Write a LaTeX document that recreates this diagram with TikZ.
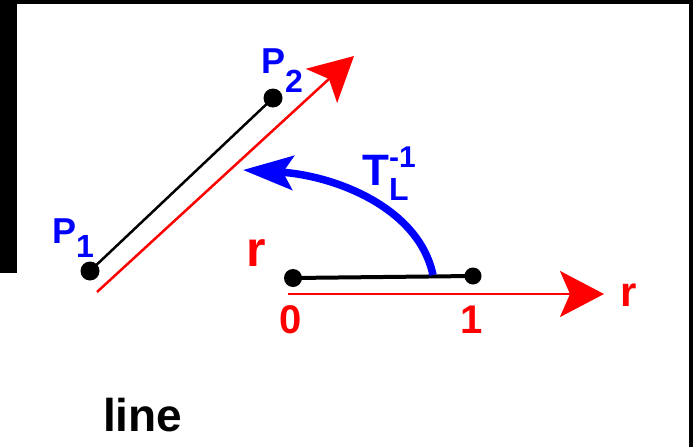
\documentclass[tikz,border=0pt]{standalone}
\usepackage{fontspec}
\setmainfont{Liberation Sans}
\usetikzlibrary{arrows.meta}
\begin{document}
\begin{tikzpicture}[x=1pt,y=-1pt,
  dot/.style={circle,fill=black,minimum size=19pt,inner sep=0pt},
  lbl/.style={inner sep=0pt,anchor=base west,font=\bfseries\fontsize{36}{40}\selectfont},
  clbl/.style={inner sep=0pt,anchor=base,font=\bfseries\fontsize{40}{44}\selectfont},
  frame/.style={fill=black},
  redarrow/.style={draw=red,line width=2.5pt,-{Stealth[length=44pt,width=46pt,inset=10pt]}},
  bluearrow/.style={draw=blue,line width=7.5pt,-{Stealth[length=50pt,width=34pt,inset=10pt]}},
]
\useasboundingbox (0,0) rectangle (693,447);
% frame pieces
\fill[frame] (0,0) rectangle (693,3.5);
\fill[frame] (0,0) rectangle (17,273);
\fill[frame] (689,0) rectangle (693,447);

% points of the line
\node[dot] (p1) at (90,271) {};
\node[dot] (p2) at (273,98) {};
\draw[line width=2.5pt] (p1.center) -- (p2.center);

% red direction of the line
\coordinate (ra) at (97,292);
\coordinate (rb) at (354,56);
\draw[redarrow] (ra) -- (rb);

% reference segment
\node[dot,minimum size=18pt] (q0) at (293,278) {};
\node[dot,minimum size=17pt] (q1) at (473,276) {};
\draw[line width=4pt] (q0.center) -- (q1.center);

% red axis
\coordinate (ax0) at (288,294);
\coordinate (ax1) at (604,294);
\draw[redarrow] (ax0) -- (ax1);

% blue transform arrow
\coordinate (ta) at (433,275);
\coordinate (tb) at (243,170);
\draw[bluearrow] (ta) .. controls (418,205) and (330,175) .. (tb);

% labels
\node[lbl,text=blue] (lp1) at (52,243) {P\raisebox{-14pt}{\fontsize{32}{34}\selectfont 1}};
\node[lbl,text=blue] (lp2) at (261,73) {P\raisebox{-19pt}{\fontsize{32}{34}\selectfont 2}};
\node[lbl,text=blue,font=\bfseries\fontsize{44}{46}\selectfont] (lt) at (362,185)
  {T\rlap{\raisebox{18pt}{\fontsize{30}{32}\selectfont -1}}\raisebox{-15pt}{\fontsize{32}{34}\selectfont L}};
\node[lbl,text=red,font=\bfseries\fontsize{50}{52}\selectfont] (lr1) at (246,266) {r};
\node[lbl,text=red,font=\bfseries\fontsize{42}{44}\selectfont] (lr2) at (620,306) {r};
\node[clbl,text=red] (l0) at (291,333) {0};
\node[clbl,text=red] (l1) at (472,333) {1};
\node[lbl,font=\bfseries\fontsize{46}{48}\selectfont] (lline) at (103,431) {line};
\end{tikzpicture}
\end{document}
